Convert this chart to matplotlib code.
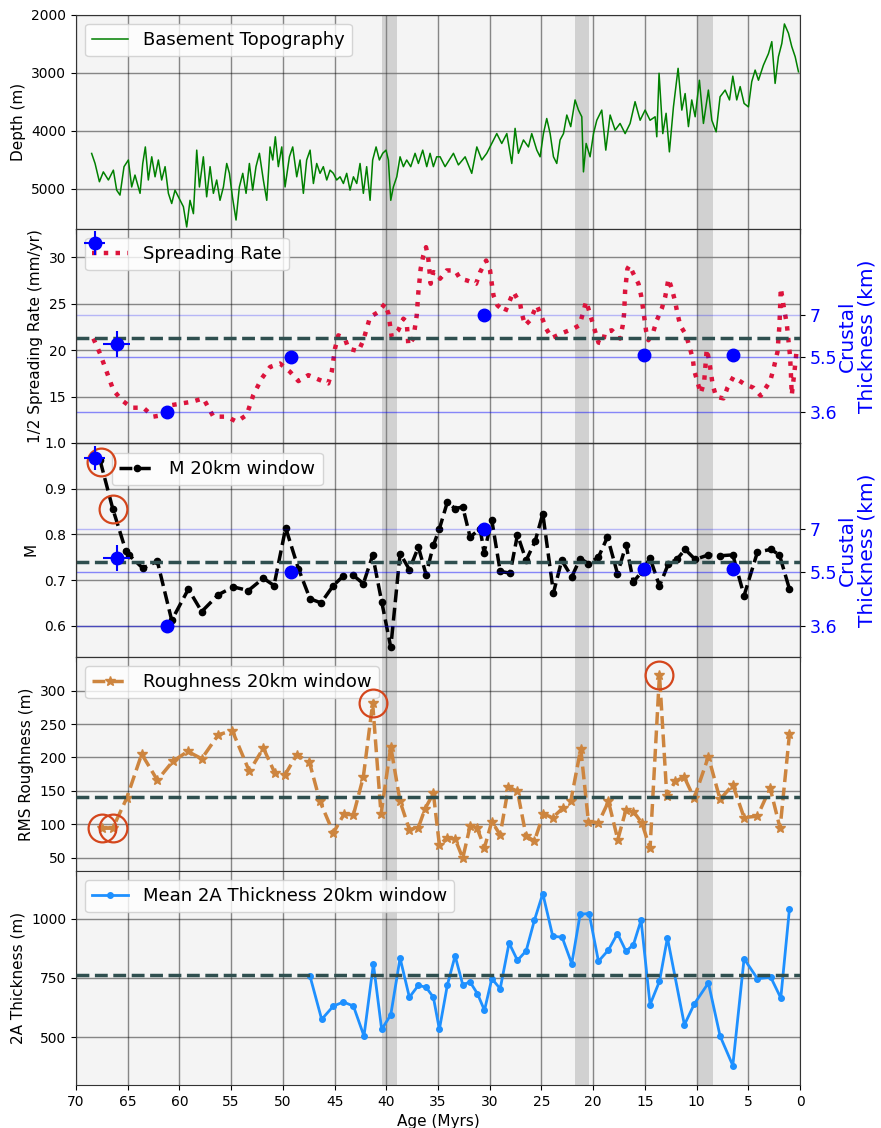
import matplotlib
matplotlib.use("Agg")
import matplotlib.pyplot as plt

# ---------------- data ----------------
# Basement topography along the profile (age in Myr, depth in m)
topo_age = [68.49, 68.16, 67.74, 67.36, 66.87, 66.39, 66.07, 65.75, 65.36, 64.94,
            64.62, 64.30, 63.81, 63.55, 63.30, 63.01, 62.68, 62.36, 62.04, 61.72,
            61.39, 61.07, 60.75, 60.43, 59.94, 59.62, 59.30, 58.98, 58.65, 58.33,
            58.07, 57.69, 57.37, 57.04, 56.72, 56.40, 56.08, 55.75, 55.43, 55.17,
            54.88, 54.53, 54.21, 53.88, 53.56, 53.24, 52.92, 52.60, 52.27, 51.89,
            51.56, 51.24, 50.98, 50.73, 50.44, 50.11, 49.79, 49.37, 49.05, 48.66,
            48.34, 48.02, 47.70, 47.37, 47.05, 46.73, 46.41, 46.09, 45.76, 45.44,
            45.12, 44.80, 44.47, 44.15, 43.83, 43.51, 43.18, 42.86, 42.54, 42.22,
            41.90, 41.57, 41.32, 40.99, 40.67, 40.35, 40.03, 39.80, 39.57, 39.32,
            38.99, 38.67, 38.35, 38.03, 37.64, 37.22, 36.90, 36.48, 36.09, 35.77,
            35.45, 35.13,
            34.80, 34.32, 33.51, 33.03, 32.38, 31.74, 31.25, 30.77, 30.29, 29.80,
            29.32, 28.84, 28.35, 27.87, 27.55, 27.23, 26.74, 26.26, 25.94, 25.45,
            25.13, 24.81, 24.49, 24.16, 23.84, 23.52, 23.20, 22.87, 22.55, 22.17,
            21.75, 21.42, 21.10, 20.94, 20.68, 20.30, 19.97, 19.65, 19.17, 18.78,
            18.36, 17.88, 17.40, 16.91, 16.43, 15.95, 15.46, 14.98, 14.50, 14.01,
            13.85, 13.63, 13.27, 12.95, 12.63, 12.24, 11.79, 11.43, 11.11, 10.79,
            10.47, 10.14, 9.73, 9.34, 8.86, 8.53, 8.11, 7.73, 7.24, 6.82,
            6.50, 6.12, 5.79, 5.41, 4.99, 4.67, 4.34, 4.02, 3.54, 3.05,
            2.73, 2.41, 2.09, 1.76, 1.51, 1.12, 0.80, 0.47, 0.15]
topo_depth = [4392, 4565, 4880, 4710, 4850, 4680, 5025, 5110, 4620, 4505,
              4970, 4765, 5080, 4565, 4280, 4850, 4450, 4795, 4505, 4850,
              4620, 5080, 5255, 5025, 5200, 5310, 5660, 5200, 5430, 4335,
              4970, 4450, 5140, 4620, 5080, 4850, 5200, 4970, 4565, 4735,
              5140, 5540, 4970, 4735, 5080, 4565, 5025, 4620, 4390, 4850,
              5200, 4280, 4505, 4105, 4620, 4280, 4970, 4450, 4280, 4795,
              4505, 5080, 4505, 4335, 4910, 4565, 4735, 4620, 4850, 4680,
              4735, 4850, 4795, 4910, 4735, 5025, 4795, 4910, 4565, 5080,
              4620, 5200, 4505, 4280, 4505, 4390, 4335, 4505, 5200, 4970,
              4795, 4450, 4620, 4505, 4620, 4390, 4565, 4335, 4620, 4390,
              4620, 4450,
              4450, 4620, 4390, 4590, 4450, 4735, 4280, 4505, 4390, 4220,
              4050, 4220, 4050, 4565, 3960, 4390, 4160, 4280, 4050, 4335,
              4450, 4050, 3790, 4050, 4450, 4565, 4160, 4050, 3730, 3930,
              3470, 3645, 3760, 4710, 4220, 4450, 4050, 3820, 3645, 4335,
              3730, 3990, 3875, 4050, 3875, 3500, 3820, 3645, 3820, 3760,
              4105, 3010, 4050, 3700, 4365, 3590, 2925, 3645, 3360, 3930,
              3470, 3760, 3130, 3875, 3300, 3820, 4020, 3415, 3300, 3470,
              3060, 3470, 3240, 3530, 3590, 3155, 2955, 3130, 2870, 2670,
              2465, 3185, 2725, 2495, 2160, 2320, 2550, 2725, 2985]

# Half spreading rate (mm/yr)
rate_age = [68.32, 67.68, 67.04, 66.39, 65.59, 64.62, 63.49, 62.52, 61.56, 60.75,
            58.82, 57.69, 56.72, 55.43, 54.47, 53.50, 52.86, 52.05, 51.24, 50.28,
            49.31, 48.50, 47.54, 46.57, 45.61, 45.28, 44.96, 44.64, 44.00, 43.67,
            42.70, 42.22, 41.90, 41.57, 40.77, 40.13, 39.80, 39.64, 39.48, 38.84,
            38.35, 38.03, 37.87, 37.39, 37.06, 36.90, 36.68, 36.42, 36.16, 35.94,
            35.71, 35.45,
            34.97, 34.80, 34.16, 33.35, 32.87, 32.22, 31.32, 30.93, 30.35, 29.97,
            29.80, 29.64, 29.26, 28.52, 27.71, 27.06, 26.90, 26.58, 26.10, 25.45,
            24.97, 24.55, 24.00, 22.87, 21.91, 21.33, 21.00, 20.68, 20.46, 20.13,
            19.81, 19.49, 19.07, 18.85, 18.20, 17.40, 17.14, 17.01, 16.91, 16.69,
            16.49, 16.11, 15.62, 15.37, 15.20, 14.88, 14.66, 14.17, 13.85, 13.37,
            13.04, 12.72, 12.40, 12.08, 11.85, 11.59, 11.01, 10.69, 10.37, 10.24,
            9.92, 9.60, 9.27, 9.02, 8.76, 8.63, 8.44, 8.11, 7.40, 7.02,
            6.44, 5.47, 4.50, 3.80, 2.89, 2.57, 2.18, 1.99, 1.86, 1.60,
            1.28, 1.12, 0.96, 0.89, 0.80, 0.54, 0.31]
rate_val = [21.25, 19.64, 17.68, 15.71, 14.64, 13.82, 13.82, 12.86, 13.04, 14.10,
            14.46, 14.82, 12.86, 12.86, 12.32, 13.04, 15.18, 16.96, 18.20, 18.57,
            17.68, 16.68, 17.32, 16.86, 16.43, 17.68, 20.18, 21.60, 21.25, 20.18,
            19.89, 21.07, 22.32, 23.57, 24.10, 25.00, 23.93, 22.68, 21.43, 22.14,
            23.39, 23.04, 20.54, 21.25, 23.75, 26.25, 28.75, 30.18, 31.07, 29.82,
            27.14, 28.39,
            28.21, 27.68, 28.57, 28.57, 27.68, 27.50, 27.14, 28.39, 29.64, 28.57,
            27.14, 25.89, 24.82, 24.11, 26.25, 25.00, 23.93, 22.68, 23.21, 24.82,
            23.57, 22.32, 21.32, 21.89, 22.32, 22.68, 23.93, 25.25, 24.46, 23.21,
            21.96, 20.82, 20.71, 21.96, 22.14, 21.25, 22.68, 23.93, 26.43, 28.75,
            29.11, 28.21, 27.14, 25.89, 24.64, 22.04, 21.07, 22.04, 23.21, 24.46,
            25.71, 27.68, 26.61, 25.25, 23.93, 22.68, 21.61, 20.36, 19.11, 17.86,
            16.61, 15.36, 16.61, 20.11, 18.75, 17.68, 16.25, 15.00, 14.82, 15.96,
            17.14, 16.43, 15.96, 15.11, 16.68, 17.96, 19.82, 22.68, 26.68, 24.82,
            22.82, 21.07, 19.29, 17.68, 15.18, 17.68, 20.18]

# M (fraction of magmatic extension), 20 km window
m_age = [67.68, 66.45, 65.17, 64.84, 63.55, 62.14, 60.75, 59.14, 57.85, 56.24,
         54.79, 53.34, 51.89, 50.86, 49.73, 48.50, 47.38, 46.31, 45.12, 44.15,
         43.18, 42.22, 41.32, 40.45, 39.57, 38.67, 37.77, 36.90, 36.16, 35.45,
         34.87, 34.09, 33.35, 32.61, 31.90, 30.93, 30.55, 29.80, 28.99, 28.03,
         27.32, 26.48, 25.61, 24.87, 23.84, 23.04, 22.07, 21.26, 20.46, 19.49,
         18.62, 17.65, 16.82, 16.11, 15.30, 14.50, 13.59, 12.72, 11.92, 11.11,
         10.14, 8.86, 7.73, 6.50, 5.41, 4.12, 2.83, 1.99, 1.02]
m_val = [0.962, 0.856, 0.763, 0.754, 0.726, 0.741, 0.612, 0.680, 0.631, 0.668,
         0.685, 0.677, 0.704, 0.688, 0.814, 0.725, 0.659, 0.650, 0.688, 0.709,
         0.710, 0.692, 0.754, 0.653, 0.553, 0.758, 0.723, 0.772, 0.712, 0.776,
         0.812, 0.871, 0.856, 0.860, 0.794, 0.812, 0.760, 0.831, 0.719, 0.715,
         0.799, 0.743, 0.785, 0.845, 0.672, 0.743, 0.707, 0.747, 0.736, 0.750,
         0.794, 0.714, 0.777, 0.696, 0.718, 0.748, 0.687, 0.736, 0.745, 0.767,
         0.745, 0.755, 0.753, 0.755, 0.666, 0.761, 0.767, 0.755, 0.680]

# RMS roughness, 20 km window (m)
rough_age = [67.52, 66.45, 65.10, 63.65, 62.14, 60.65, 59.20, 57.85, 56.24, 54.89,
             53.24, 51.89, 50.76, 49.79, 48.66, 47.44, 46.41, 45.12, 44.09, 43.18,
             42.22, 41.32, 40.51, 39.57, 38.67, 37.77, 36.90, 36.26, 35.45, 34.87,
             34.16, 33.35, 32.61, 31.90, 31.25, 30.51, 29.80, 28.99, 28.19, 27.32,
             26.48, 25.68, 24.81, 23.91, 22.94, 22.17, 21.20, 20.46, 19.49, 18.52,
             17.62, 16.82, 16.11, 15.30, 14.50, 13.59, 12.88, 12.08, 11.21, 10.24,
             8.86, 7.73, 6.50, 5.41, 4.12, 2.89, 1.93, 1.02]
rough_val = [94, 94, 139, 205, 166, 194, 209, 198, 234, 240,
             179, 214, 176, 174, 204, 193, 134, 87, 115, 114,
             171, 281, 115, 216, 134, 92, 95, 123, 146, 69,
             79, 78, 49, 97, 95, 65, 104, 84, 156, 149,
             82, 75, 115, 110, 124, 134, 213, 104, 102, 134,
             77, 122, 119, 102, 64, 324, 142, 164, 171, 139,
             201, 137, 159, 110, 112, 154, 94, 235]

# Mean layer 2A thickness, 20 km window (m)
t2a_age = [47.38, 46.25, 45.12, 44.15, 43.18, 42.16, 41.25, 40.45, 39.57, 38.67,
           37.77, 36.90, 36.16, 35.45, 34.87, 34.09, 33.35, 32.61, 31.90, 31.19,
           30.51, 29.80, 28.99, 28.13, 27.32, 26.48, 25.68, 24.87, 23.91, 23.00,
           22.07, 21.26, 20.39, 19.49, 18.52, 17.65, 16.82, 16.11, 15.37, 14.50,
           13.59, 12.82, 11.18, 10.21, 8.86, 7.73, 6.50, 5.41, 4.12, 2.83,
           1.86, 1.02]
t2a_val = [758, 576, 632, 649, 632, 506, 809, 534, 595, 834,
           669, 719, 711, 669, 534, 722, 843, 722, 733, 684,
           614, 747, 705, 897, 824, 864, 993, 1105, 926, 921,
           810, 1018, 1021, 820, 868, 937, 862, 890, 993, 638,
           736, 919, 553, 642, 729, 506, 382, 831, 747, 753,
           666, 1042]

# Crustal thickness estimates (km); first two carry age / thickness uncertainty
ct_err_age = [68.2, 66.07]
ct_err_km = [9.5, 5.98]
ct_err_dage = [1.0, 1.3]
ct_err_dkm = [0.42, 0.45]
ct_age = [61.2, 49.2, 30.6, 15.1, 6.5]
ct_km = [3.6, 5.5, 7.0, 5.6, 5.6]
ct_ticks = [3.6, 5.5, 7.0]
ct_ticklabels = ["3.6", "5.5", "7"]

# Linear relation between crustal thickness (km) and the left-hand quantities
rate_anchor_km = (3.6, 7.0)
rate_anchor_val = (13.4, 23.83)
m_anchor_km = (3.6, 7.0)
m_anchor_val = (0.6, 0.8116)

# Profile means
mean_rate = 21.3
mean_m = 0.739
mean_rough = 140
mean_t2a = 761

# Highlighted windows
hl_m_age = [67.55, 66.45]
hl_m_val = [0.958, 0.855]
hl_r_age = [67.52, 66.45, 41.32, 13.59]
hl_r_val = [94, 94, 281, 324]

# Shaded age intervals (Myr)
spans = [(39.0, 40.4), (20.4, 21.8), (8.4, 10.0)]

age_ticks = list(range(0, 75, 5))

# ---------------- figure ----------------
plt.rcParams["font.family"] = ["DejaVu Sans"]
plt.rcParams["font.size"] = 10

fig = plt.figure(figsize=(8.81, 11.28), dpi=100)
axes = fig.subplots(5, 1, sharex=True)
fig.subplots_adjust(left=0.0863, right=0.9081, top=0.987, bottom=0.0381, hspace=0)

FACE = "#f4f4f4"
MEAN_KW = dict(color="darkslategray", ls="--", lw=2.5, zorder=3)
CIRCLE_KW = dict(ls="none", marker="o", ms=20, mfc="none", mec="#d4461c", mew=1.6, zorder=6)
LEG_KW = dict(fontsize=13)

for ax in axes:
    ax.set_facecolor(FACE)
    ax.grid(True, color="k", alpha=0.45, lw=1)
    ax.set_axisbelow(True)
    for a0, a1 in spans:
        ax.axvspan(a0, a1, color="gray", alpha=0.3, lw=0, zorder=1)
    ax.tick_params(labelsize=10)
    for sp in ax.spines.values():
        sp.set_color("#333333")

ax1, ax2, ax3, ax4, ax5 = axes

# 1: basement topography
ax1.plot(topo_age, topo_depth, color="green", lw=1.1, label="Basement Topography", zorder=2)
ax1.set_ylim(5690, 2000)
ax1.set_yticks([2000, 3000, 4000, 5000])
ax1.set_ylabel("Depth (m)", fontsize=11)
ax1.legend(loc="upper left", **LEG_KW)


def lin(anchor_km, anchor_val):
    slope = (anchor_val[1] - anchor_val[0]) / (anchor_km[1] - anchor_km[0])
    return slope, anchor_val[0] - slope * anchor_km[0]


def add_thickness_axis(ax, anchor_km, anchor_val):
    slope, icpt = lin(anchor_km, anchor_val)
    lo, hi = ax.get_ylim()
    tw = ax.twinx()
    tw.set_ylim((lo - icpt) / slope, (hi - icpt) / slope)
    for t in ct_ticks:
        tw.axhline(t, color="blue", lw=1, alpha=0.45 if t != 7.0 else 0.25, zorder=2)
    tw.set_yticks(ct_ticks)
    tw.set_yticklabels(ct_ticklabels)
    tw.tick_params(axis="y", labelcolor="blue", labelsize=12.5)
    tw.set_ylabel("Crustal\nThickness (km)", color="blue", fontsize=14.5,
                  labelpad=0, linespacing=1.05)
    tw.errorbar(ct_err_age, ct_err_km, xerr=ct_err_dage, yerr=ct_err_dkm,
                fmt="o", color="blue", ms=9, elinewidth=1.5, capsize=0, zorder=7)
    tw.plot(ct_age, ct_km, "o", color="blue", ms=9, zorder=7)
    for sp in tw.spines.values():
        sp.set_color("#333333")
    return tw


# 2: spreading rate
ax2.plot(rate_age, rate_val, color="crimson", ls=":", lw=3.2, label="Spreading Rate", zorder=3)
ax2.axhline(mean_rate, **MEAN_KW)
ax2.set_ylim(10.05, 33.05)
ax2.set_yticks([15, 20, 25, 30])
ax2.set_ylabel("1/2 Spreading Rate (mm/yr)", fontsize=11)
ax2.legend(loc="upper left", **LEG_KW)
add_thickness_axis(ax2, rate_anchor_km, rate_anchor_val)

# 3: M
ax3.plot(m_age, m_val, color="black", ls="--", lw=2.5, marker=".", ms=9,
         label="M 20km window", zorder=3)
ax3.axhline(mean_m, **MEAN_KW)
ax3.set_ylim(0.532, 1.0)
ax3.set_yticks([0.6, 0.7, 0.8, 0.9, 1.0])
ax3.set_ylabel("M", fontsize=11)
ax3.legend(loc="upper left", bbox_to_anchor=(0.049, 0.953), borderaxespad=0, **LEG_KW)
tw3 = add_thickness_axis(ax3, m_anchor_km, m_anchor_val)
ax3.plot(hl_m_age, hl_m_val, **CIRCLE_KW)

# 4: roughness
ax4.plot(rough_age, rough_val, color="peru", ls="--", lw=2.5, marker="*", ms=7,
         label="Roughness 20km window", zorder=3)
ax4.axhline(mean_rough, **MEAN_KW)
ax4.plot(hl_r_age, hl_r_val, **CIRCLE_KW)
ax4.set_ylim(30, 350.5)
ax4.set_yticks([50, 100, 150, 200, 250, 300])
ax4.set_ylabel("RMS Roughness (m)", fontsize=11)
ax4.legend(loc="upper left", **LEG_KW)

# 5: layer 2A thickness
ax5.plot(t2a_age, t2a_val, color="dodgerblue", lw=2, marker="o", ms=4,
         label="Mean 2A Thickness 20km window", zorder=3)
ax5.axhline(mean_t2a, **MEAN_KW)
ax5.set_ylim(300, 1200)
ax5.set_yticks([500, 750, 1000])
ax5.set_ylabel("2A Thickness (m)", fontsize=11)
ax5.legend(loc="upper left", **LEG_KW)

ax5.set_xlim(70, 0)
ax5.set_xticks(age_ticks)
ax5.set_xlabel("Age (Myrs)", fontsize=11)

fig.savefig("out.png", dpi=100)
